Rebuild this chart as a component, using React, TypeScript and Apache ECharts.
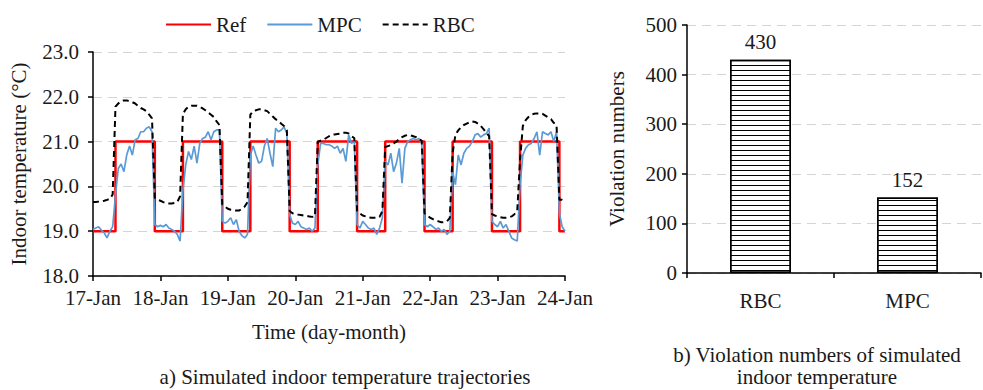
import React, { useEffect, useRef } from "react";
import * as echarts from "echarts";

const FONT = "'Liberation Serif', 'Times New Roman', serif";

const dayLabels = ["17-Jan", "18-Jan", "19-Jan", "20-Jan", "21-Jan", "22-Jan", "23-Jan", "24-Jan"];

// Reference setpoint schedule: [hour since 17-Jan 00:00, °C]
const refPoints: [number, number][] = [
  [0, 19], [8, 21], [22, 19], [32, 21], [46, 19], [56, 21], [70, 19], [80, 21],
  [94, 19], [104, 21], [118, 19], [128, 21], [142, 19], [152, 21], [166, 19], [168, 19],
];

// MPC hourly indoor temperature per day (h0..h23)
const mpc17 = [19.04, 19.07, 19.10, 19.02, 18.96, 18.85, 19.00, 19.10, 19.80, 20.40, 20.50, 20.33, 20.70, 20.90, 20.70, 21.04, 21.07, 21.22, 21.22, 21.30, 21.33, 21.22, 19.15, 19.10];
const mpc18 = [19.13, 19.10, 19.15, 19.07, 19.04, 19.00, 18.93, 18.78, 19.90, 20.48, 20.78, 20.60, 20.90, 20.52, 20.96, 21.07, 21.10, 21.22, 21.04, 21.22, 21.26, 21.26, 19.22, 19.18];
const mpc19 = [19.22, 19.30, 19.15, 19.26, 19.00, 18.90, 18.85, 18.93, 20.70, 20.90, 20.70, 20.52, 20.56, 20.90, 21.07, 20.74, 20.44, 21.30, 21.22, 21.26, 21.33, 21.18, 19.37, 19.18];
const mpc20 = [19.15, 19.22, 19.10, 19.07, 19.04, 19.07, 19.00, 19.07, 20.48, 20.96, 20.96, 20.93, 20.93, 20.90, 20.85, 20.90, 20.74, 20.85, 20.56, 21.15, 20.96, 21.00, 19.15, 19.07];
const mpc21 = [19.22, 19.15, 19.07, 19.04, 19.07, 18.93, 19.07, 19.30, 20.56, 20.48, 20.74, 20.33, 20.52, 20.85, 20.07, 20.85, 21.00, 21.04, 21.07, 21.04, 21.07, 20.96, 19.15, 19.10];
const mpc22 = [19.15, 19.10, 19.04, 19.07, 19.00, 19.04, 18.93, 19.00, 20.33, 20.04, 20.70, 20.48, 20.74, 20.85, 20.90, 21.00, 21.15, 21.18, 21.10, 21.15, 21.18, 21.30, 19.22, 19.15];
const mpc23 = [19.10, 19.22, 19.07, 19.15, 19.00, 18.85, 18.81, 18.78, 20.04, 20.70, 20.85, 20.93, 20.96, 21.07, 21.22, 20.70, 21.22, 21.18, 21.15, 21.22, 21.00, 21.22, 19.40, 19.10];
const mpcEnd = 19.0;

// RBC hourly indoor temperature per day (h0..h23)
const rbc17 = [19.65, 19.65, 19.66, 19.67, 19.68, 19.70, 19.72, 19.82, 21.78, 21.85, 21.90, 21.92, 21.92, 21.90, 21.88, 21.85, 21.80, 21.75, 21.72, 21.68, 21.60, 21.52, 19.75, 19.70];
const rbc18 = [19.68, 19.65, 19.63, 19.62, 19.62, 19.63, 19.65, 19.78, 21.62, 21.72, 21.78, 21.80, 21.80, 21.80, 21.78, 21.74, 21.70, 21.65, 21.60, 21.55, 21.45, 21.37, 19.60, 19.55];
const rbc19 = [19.50, 19.48, 19.47, 19.46, 19.46, 19.50, 19.55, 19.65, 21.60, 21.68, 21.70, 21.72, 21.72, 21.70, 21.68, 21.62, 21.56, 21.50, 21.46, 21.40, 21.35, 21.25, 19.45, 19.40];
const rbc20 = [19.38, 19.37, 19.36, 19.35, 19.34, 19.33, 19.32, 19.33, 21.00, 21.02, 21.04, 21.08, 21.12, 21.15, 21.16, 21.17, 21.18, 21.20, 21.20, 21.18, 21.12, 21.08, 19.45, 19.40];
const rbc21 = [19.35, 19.33, 19.31, 19.30, 19.30, 19.30, 19.32, 19.45, 20.88, 20.90, 20.92, 20.96, 21.00, 21.06, 21.10, 21.13, 21.15, 21.14, 21.12, 21.10, 21.05, 21.02, 19.40, 19.35];
const rbc22 = [19.30, 19.27, 19.24, 19.22, 19.20, 19.20, 19.22, 19.30, 20.75, 21.15, 21.25, 21.32, 21.37, 21.40, 21.43, 21.45, 21.44, 21.40, 21.35, 21.28, 21.20, 21.12, 19.38, 19.35];
const rbc23 = [19.33, 19.31, 19.30, 19.30, 19.31, 19.33, 19.38, 19.45, 20.60, 21.35, 21.48, 21.55, 21.60, 21.62, 21.63, 21.63, 21.62, 21.58, 21.54, 21.50, 21.42, 21.36, 19.70, 19.70];
const rbcEnd = 19.65;

const barCategories = ["RBC", "MPC"];
const violationCounts = [430, 152];

const toDays = (vals: number[]) => vals.map((v, i) => [i / 24, v]);

export default function App() {
  const ref = useRef<HTMLDivElement>(null);
  useEffect(() => {
    if (!ref.current) return;
    const chart = echarts.init(ref.current, null, { renderer: "svg" });
    const mpcAll = [...mpc17, ...mpc18, ...mpc19, ...mpc20, ...mpc21, ...mpc22, ...mpc23, mpcEnd];
    const rbcAll = [...rbc17, ...rbc18, ...rbc19, ...rbc20, ...rbc21, ...rbc22, ...rbc23, rbcEnd];
    const FS = 21;
    const txt = { fontFamily: FONT, fontSize: FS, color: "#1a1a1a" };
    const axisLine = { show: true, lineStyle: { color: "#000", width: 1.5 } };
    const axisTick = { show: true, length: 5, lineStyle: { color: "#000", width: 1.5 } };
    const split = { show: true, lineStyle: { color: "#d4d4d4", width: 1.2, type: [9, 6] } };
    const gtext = (text: string, x: number, y: number) => ({
      type: "text",
      x,
      y,
      style: { text, fontFamily: FONT, fontSize: FS, fill: "#1a1a1a", align: "center", verticalAlign: "middle" },
    });
    chart.setOption({
      animation: false,
      textStyle: { fontFamily: FONT },
      legend: {
        data: ["Ref", "MPC", "RBC"],
        left: 160,
        top: 9,
        itemWidth: 45,
        itemHeight: 14,
        itemGap: 20,
        itemStyle: { color: "rgba(0,0,0,0)", borderColor: "rgba(0,0,0,0)", borderWidth: 0 },
        textStyle: { ...txt },
      },
      grid: [
        { left: 93, top: 52, width: 472, height: 224 },
        { left: 687, top: 25, width: 294, height: 248 },
      ],
      xAxis: [
        {
          type: "value",
          gridIndex: 0,
          min: 0,
          max: 7,
          interval: 1,
          axisLine,
          axisTick,
          splitLine: { show: false },
          axisLabel: { ...txt, margin: 11, formatter: (v: number) => dayLabels[Math.round(v)] },
          name: "Time (day-month)",
          nameLocation: "middle",
          nameGap: 45,
          nameTextStyle: { ...txt },
        },
        {
          type: "category",
          gridIndex: 1,
          data: barCategories,
          axisLine,
          axisTick,
          axisLabel: { ...txt, margin: 17 },
        },
      ],
      yAxis: [
        {
          type: "value",
          gridIndex: 0,
          min: 18,
          max: 23,
          interval: 1,
          axisLine,
          axisTick,
          splitLine: split,
          axisLabel: { ...txt, margin: 14, formatter: (v: number) => v.toFixed(1) },
          name: "Indoor temperature (°C)",
          nameLocation: "middle",
          nameGap: 64,
          nameTextStyle: { ...txt },
        },
        {
          type: "value",
          gridIndex: 1,
          min: 0,
          max: 500,
          interval: 100,
          axisLine,
          axisTick,
          splitLine: split,
          axisLabel: { ...txt, margin: 10 },
          name: "Violation numbers",
          nameLocation: "middle",
          nameGap: 60,
          nameTextStyle: { ...txt },
        },
      ],
      series: [
        {
          name: "Ref",
          type: "line",
          xAxisIndex: 0,
          yAxisIndex: 0,
          step: "end",
          symbol: "none",
          data: refPoints.map(([h, v]) => [h / 24, v]),
          lineStyle: { color: "#ff0000", width: 2.5 },
          itemStyle: { color: "#ff0000" },
        },
        {
          name: "MPC",
          type: "line",
          xAxisIndex: 0,
          yAxisIndex: 0,
          symbol: "none",
          data: toDays(mpcAll),
          lineStyle: { color: "#5b9bd5", width: 1.7 },
          itemStyle: { color: "#5b9bd5" },
        },
        {
          name: "RBC",
          type: "line",
          xAxisIndex: 0,
          yAxisIndex: 0,
          symbol: "none",
          data: toDays(rbcAll),
          lineStyle: { color: "#000", width: 2, type: [6, 4] },
          itemStyle: { color: "#000" },
        },
        {
          name: "Violations",
          type: "bar",
          xAxisIndex: 1,
          yAxisIndex: 1,
          data: violationCounts,
          barWidth: 61,
          itemStyle: {
            color: "#ffffff",
            borderColor: "#000",
            borderWidth: 1.5,
            decal: {
              symbol: "rect",
              symbolSize: 1,
              dashArrayX: [1, 0],
              dashArrayY: [1, 4],
              rotation: 0,
              color: "#000",
              backgroundColor: "#ffffff",
            },
          },
          label: { show: true, position: "top", distance: 7, ...txt },
        },
      ],
      graphic: [
        gtext("a) Simulated indoor temperature trajectories", 345, 377),
        gtext("b) Violation numbers of simulated", 817, 355),
        gtext("indoor temperature", 817, 377),
      ],
    });
    return () => chart.dispose();
  }, []);
  return (
    <div
      ref={ref}
      style={{ position: "fixed", left: 0, top: 0, width: 983, height: 390, background: "#fff" }}
    />
  );
}
